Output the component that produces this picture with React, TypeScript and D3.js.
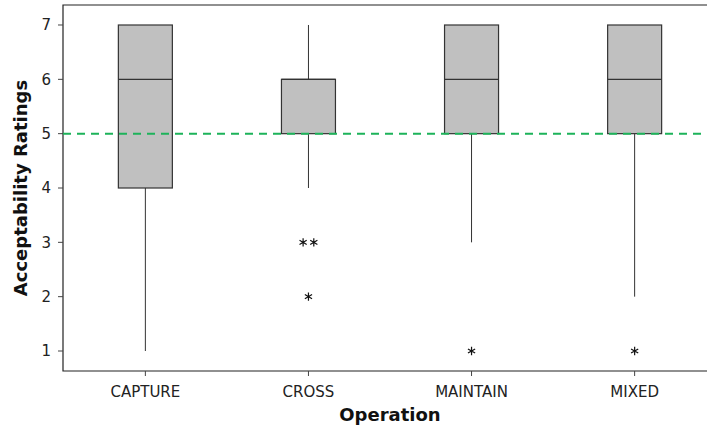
import React from 'react';
import * as d3 from 'd3';

const categories = ['CAPTURE', 'CROSS', 'MAINTAIN', 'MIXED'];
const q1 = [4, 5, 5, 5];
const median = [6, 6, 6, 6];
const q3 = [7, 6, 7, 7];
const whiskerLow = [1, 4, 3, 2];
const whiskerHigh = [7, 7, 7, 7];
// outliers: [category index, value, horizontal offset in units of box width]
const outliers: [number, number, number][] = [
  [1, 3, -0.11],
  [1, 3, 0.11],
  [1, 2, 0],
  [2, 1, 0],
  [3, 1, 0],
];
const yTicks = [1, 2, 3, 4, 5, 6, 7];
const refLine = 5;

const W = 707;
const H = 427;
const margin = { top: 5, right: -10, bottom: 56, left: 63 };

const App: React.FC = () => {
  const plotLeft = margin.left;
  const plotRight = W - margin.right;
  const plotTop = margin.top;
  const plotBottom = H - margin.bottom;

  const x = d3.scaleBand<string>()
    .domain(categories)
    .range([plotLeft, plotRight])
    .paddingInner(0)
    .paddingOuter(0.005);
  const cx = (c: string) => (x(c) ?? 0) + x.bandwidth() / 2;

  const y = d3.scaleLinear().domain([0.632, 7.368]).range([plotBottom, plotTop]);

  const boxW = 54;
  const star = d3.symbol().type(d3.symbolAsterisk).size(48)();
  const font = '"DejaVu Sans", "Open Sans", sans-serif';

  return (
    <svg width={W} height={H} style={{ position: 'absolute', left: 0, top: 0 }}>
      <rect width={W} height={H} fill="#fff" />
      {/* frame */}
      <path
        d={`M${plotRight},${plotTop}H${plotLeft}V${plotBottom}H${plotRight}`}
        fill="none"
        stroke="#222"
        strokeWidth={1.2}
      />
      {/* y ticks */}
      {yTicks.map(t => (
        <g key={t}>
          <line x1={plotLeft - 5} x2={plotLeft} y1={y(t)} y2={y(t)} stroke="#444" />
          <text
            x={plotLeft - 12}
            y={y(t)}
            dy="0.36em"
            textAnchor="end"
            fontFamily={font}
            fontSize={15}
            fill="#222"
          >
            {t}
          </text>
        </g>
      ))}
      {/* x ticks */}
      {categories.map(c => (
        <g key={c}>
          <line x1={cx(c)} x2={cx(c)} y1={plotBottom} y2={plotBottom + 5} stroke="#444" />
          <text
            x={cx(c)}
            y={plotBottom + 26}
            textAnchor="middle"
            fontFamily={font}
            fontSize={15}
            fill="#222"
          >
            {c}
          </text>
        </g>
      ))}
      {/* boxes */}
      {categories.map((c, i) => {
        const m = cx(c);
        return (
          <g key={c}>
            <line x1={m} x2={m} y1={y(whiskerLow[i])} y2={y(q1[i])} stroke="#333" />
            <line x1={m} x2={m} y1={y(q3[i])} y2={y(whiskerHigh[i])} stroke="#333" />
            <rect
              x={m - boxW / 2}
              y={y(q3[i])}
              width={boxW}
              height={y(q1[i]) - y(q3[i])}
              fill="#c0c0c0"
              stroke="#333"
              strokeWidth={1.2}
            />
            <line
              x1={m - boxW / 2}
              x2={m + boxW / 2}
              y1={y(median[i])}
              y2={y(median[i])}
              stroke="#333"
              strokeWidth={1.2}
            />
          </g>
        );
      })}
      {/* reference line */}
      <line
        x1={plotLeft}
        x2={plotRight}
        y1={y(refLine)}
        y2={y(refLine)}
        stroke="#1db35a"
        strokeWidth={2}
        strokeDasharray="8,6"
      />
      {/* outliers */}
      {outliers.map(([ci, v, off], k) => (
        <path
          key={k}
          d={star ?? ''}
          transform={`translate(${cx(categories[ci]) + off * boxW * 0.9},${y(v)})`}
          fill="none"
          stroke="#111"
          strokeWidth={1.2}
        />
      ))}
      {/* axis titles */}
      <text
        x={(plotLeft + plotRight) / 2}
        y={H - 6}
        textAnchor="middle"
        fontFamily={font}
        fontSize={18}
        fontWeight="bold"
        fill="#111"
      >
        Operation
      </text>
      <text
        transform={`translate(27,${(plotTop + plotBottom) / 2}) rotate(-90)`}
        textAnchor="middle"
        fontFamily={font}
        fontSize={18}
        fontWeight="bold"
        fill="#111"
      >
        Acceptability Ratings
      </text>
    </svg>
  );
};

export default App;
